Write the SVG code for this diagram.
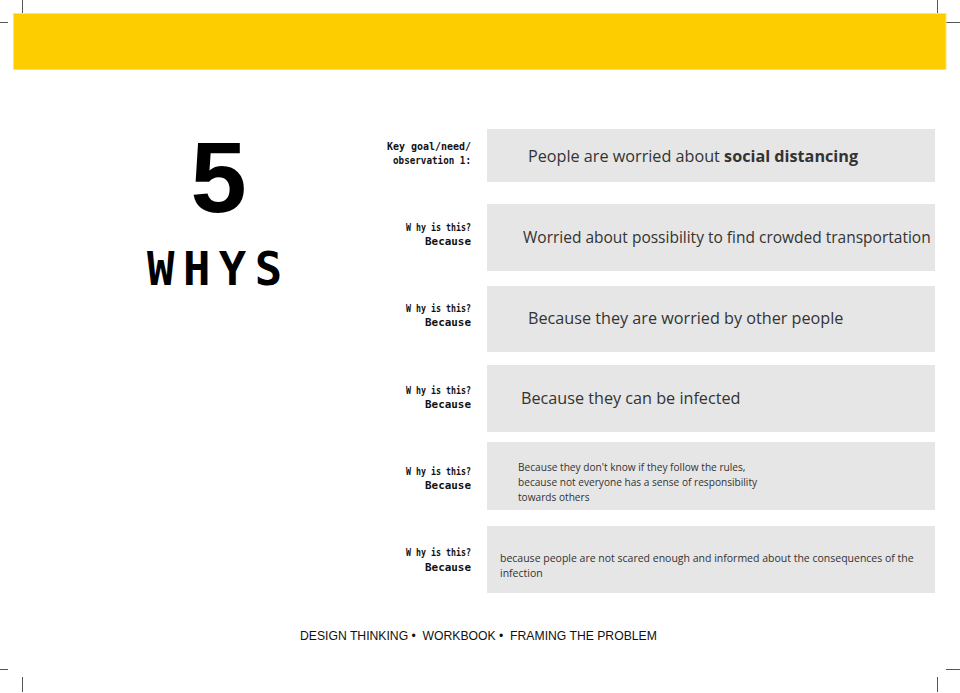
<svg xmlns="http://www.w3.org/2000/svg" width="960" height="693" viewBox="0 0 960 693">
  <style>
    .crop { stroke: #555; stroke-width: 1; }
    .box { fill: #e6e6e6; }
    .lbl { font-family: "DejaVu Sans Mono", monospace; font-weight: bold; font-size: 10.5px; fill: #111; text-anchor: end; }
    .big { font-family: "Open Sans", sans-serif; font-size: 16.2px; fill: #333; }
    .big.tight { font-size: 15.5px; }
    .small { font-family: "Open Sans", sans-serif; font-size: 10.5px; fill: #333; }
    .small.tight { font-size: 10.15px; }
    .foot { font-family: "Liberation Sans", Arial, sans-serif; font-size: 12.2px; fill: #111; }
  </style>
  <rect width="960" height="693" fill="#fff"/>

  <!-- crop marks -->
  <g id="crop-marks">
    <line class="crop" x1="22.5" y1="0" x2="22.5" y2="15"/>
    <line class="crop" x1="0" y1="22.5" x2="8" y2="22.5"/>
    <line class="crop" x1="937.5" y1="0" x2="937.5" y2="15"/>
    <line class="crop" x1="946" y1="22.5" x2="960" y2="22.5"/>
    <line class="crop" x1="0" y1="669.5" x2="8" y2="669.5"/>
    <line class="crop" x1="22.5" y1="677" x2="22.5" y2="692"/>
    <line class="crop" x1="946" y1="669.5" x2="960" y2="669.5"/>
    <line class="crop" x1="937.5" y1="677" x2="937.5" y2="692"/>
  </g>

  <!-- header band -->
  <rect id="header" x="13.5" y="13.5" width="932.5" height="56" fill="#fdcd00" stroke="#fbe27a" stroke-width="1"/>

  <!-- title -->
  <g id="title">
    <text x="218.5" y="212" font-family="Liberation Sans, Arial, sans-serif" font-weight="bold" font-size="101" text-anchor="middle" fill="#000">5</text>
    <text x="147" y="285" font-family="DejaVu Sans Mono, monospace" font-weight="bold" font-size="45.5" letter-spacing="8.5" fill="#000">WHYS</text>
  </g>

  <!-- step 0: key goal -->
  <g id="step-goal">
    <text class="lbl" x="471" y="150" textLength="84" lengthAdjust="spacingAndGlyphs">Key goal/need/</text>
    <text class="lbl" x="471" y="164" textLength="78" lengthAdjust="spacingAndGlyphs">observation 1:</text>
    <rect class="box" x="487" y="129" width="448" height="53"/>
    <text class="big" x="528" y="162">People are worried about <tspan font-weight="bold">social distancing</tspan></text>
  </g>

  <!-- step 1 -->
  <g id="step-1">
    <text class="lbl" x="471" y="231" textLength="65" lengthAdjust="spacingAndGlyphs">W hy is this?</text>
    <text class="lbl" x="471" y="245" textLength="46" lengthAdjust="spacingAndGlyphs">Because</text>
    <rect class="box" x="487" y="204" width="448" height="67"/>
    <text class="big tight" x="523" y="243">Worried about possibility to find crowded transportation</text>
  </g>

  <!-- step 2 -->
  <g id="step-2">
    <text class="lbl" x="471" y="312" textLength="65" lengthAdjust="spacingAndGlyphs">W hy is this?</text>
    <text class="lbl" x="471" y="326" textLength="46" lengthAdjust="spacingAndGlyphs">Because</text>
    <rect class="box" x="487" y="286" width="448" height="66"/>
    <text class="big" x="528" y="324">Because they are worried by other people</text>
  </g>

  <!-- step 3 -->
  <g id="step-3">
    <text class="lbl" x="471" y="394" textLength="65" lengthAdjust="spacingAndGlyphs">W hy is this?</text>
    <text class="lbl" x="471" y="408" textLength="46" lengthAdjust="spacingAndGlyphs">Because</text>
    <rect class="box" x="487" y="365" width="448" height="67"/>
    <text class="big" x="521" y="404">Because they can be infected</text>
  </g>

  <!-- step 4 -->
  <g id="step-4">
    <text class="lbl" x="471" y="475" textLength="65" lengthAdjust="spacingAndGlyphs">W hy is this?</text>
    <text class="lbl" x="471" y="489" textLength="46" lengthAdjust="spacingAndGlyphs">Because</text>
    <rect class="box" x="487" y="442" width="448" height="68"/>
    <text class="small tight" x="518" y="471">Because they don't know if they follow the rules,</text>
    <text class="small tight" x="518" y="486">because not everyone has a sense of responsibility</text>
    <text class="small tight" x="518" y="501">towards others</text>
  </g>

  <!-- step 5 -->
  <g id="step-5">
    <text class="lbl" x="471" y="556" textLength="65" lengthAdjust="spacingAndGlyphs">W hy is this?</text>
    <text class="lbl" x="471" y="571" textLength="46" lengthAdjust="spacingAndGlyphs">Because</text>
    <rect class="box" x="487" y="526" width="448" height="67"/>
    <text class="small" x="500" y="562">because people are not scared enough and informed about the consequences of the</text>
    <text class="small" x="500" y="577">infection</text>
  </g>

  <!-- footer -->
  <text id="footer" class="foot" x="300" y="640" xml:space="preserve">DESIGN THINKING •  WORKBOOK •  FRAMING THE PROBLEM</text>
</svg>
